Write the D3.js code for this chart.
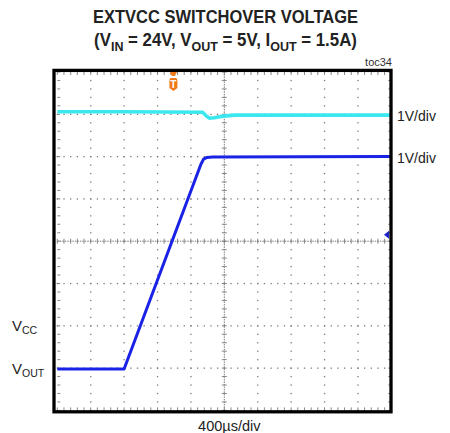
<!DOCTYPE html>
<html><head><meta charset="utf-8">
<script src="https://cdn.jsdelivr.net/npm/d3@7"></script>
<style>body{margin:0;background:#fff}svg{display:block}text{font-family:"Liberation Sans",Arial,sans-serif}</style>
</head><body>
<svg id="c" width="450" height="433"></svg>
<script>
// data: time in divisions (0..10), level in divisions above bottom (0..8)
const vccTime  = [0, 2.0, 4.35, 4.45, 4.55, 4.7, 4.9, 5.3, 10];
const vccLevel = [7.06, 7.06, 7.05, 6.97, 6.91, 6.92, 6.95, 6.98, 6.98];
const voutTime  = [0, 2.0, 4.3, 4.38, 4.48, 4.65, 10];
const voutLevel = [0.98, 0.98, 5.82, 5.94, 5.98, 5.99, 6.0];
const xDivs = 10, yDivs = 8;
const channelLabels = ["1V/div", "1V/div"];
const channelLabelLevels = [6.98, 6.0];
const groundLabels = [["V","CC"],["V","OUT"]];
const groundLevels = [2, 1];
const timeLabel = "400µs/div";
const titleLine1 = "EXTVCC SWITCHOVER VOLTAGE";
const titleLine2 = [["(V",0],["IN",1],[" = 24V, V",0],["OUT",1],[" = 5V, I",0],["OUT",1],[" = 1.5A)",0]];
const triggerTime = 3.5;
const triggerLevel = 4.15;

const svg = d3.select("#c");
const x = d3.scaleLinear().domain([0, xDivs]).range([57.3, 391.3]);
const y = d3.scaleLinear().domain([0, yDivs]).range([410.4, 72]);
const grey = "#7a7a7a";

function fitWidth(sel, cx, target) {
  const w = sel.node().getBBox().width;
  sel.attr("transform", `translate(${cx},0) scale(${target/w},1) translate(${-cx},0)`);
}
// title
const t1 = svg.append("text").attr("x", 225.5).attr("y", 23.5).attr("text-anchor","middle")
  .attr("font-weight","bold").attr("font-size",17.5).attr("fill","#222").text(titleLine1);
fitWidth(t1, 225.5, 265);
const t2 = svg.append("text").attr("x", 225.5).attr("y", 46.5).attr("text-anchor","middle")
  .attr("font-weight","bold").attr("font-size",17.5).attr("fill","#222");
let prevSub = 0;
titleLine2.forEach(([s,sub]) => {
  const dy = sub === prevSub ? 0 : (sub ? 5 : -5);
  t2.append("tspan").attr("font-size", sub ? 13 : 17.5).attr("dy", dy).text(s);
  prevSub = sub;
});
fitWidth(t2, 225.5, 263);
svg.append("text").attr("x", 392).attr("y", 66).attr("text-anchor","end")
  .attr("font-size", 11).attr("fill","#333").text("toc34");

const g = svg.append("g");
// dotted grid
const sub = 5;
for (let i = 1; i < xDivs; i++) {
  if (i === xDivs/2) continue;
  for (let k = 0; k <= yDivs*sub; k++) {
    g.append("rect").attr("x", x(i)-0.6).attr("y", y(k/sub)-0.6).attr("width",1.3).attr("height",1.3).attr("fill",grey);
  }
}
for (let j = 1; j < yDivs; j++) {
  if (j === yDivs/2) continue;
  for (let k = 0; k <= xDivs*sub; k++) {
    g.append("rect").attr("x", x(k/sub)-0.6).attr("y", y(j)-0.6).attr("width",1.3).attr("height",1.3).attr("fill",grey);
  }
}
// center lines
g.append("line").attr("x1",x(0)).attr("x2",x(xDivs)).attr("y1",y(yDivs/2)).attr("y2",y(yDivs/2))
  .attr("stroke",grey).attr("stroke-width",1).attr("stroke-dasharray","1.5,1");
g.append("line").attr("x1",x(xDivs/2)).attr("x2",x(xDivs/2)).attr("y1",y(0)).attr("y2",y(yDivs))
  .attr("stroke",grey).attr("stroke-width",1).attr("stroke-dasharray","1.5,1");
for (let k = 0; k <= xDivs*sub; k++) {
  g.append("line").attr("x1",x(k/sub)).attr("x2",x(k/sub)).attr("y1",y(yDivs/2)-2.5).attr("y2",y(yDivs/2)+2.5).attr("stroke",grey).attr("stroke-width",0.9);
  g.append("line").attr("x1",x(k/sub)).attr("x2",x(k/sub)).attr("y1",y(yDivs)).attr("y2",y(yDivs)+3).attr("stroke",grey).attr("stroke-width",0.9);
  g.append("line").attr("x1",x(k/sub)).attr("x2",x(k/sub)).attr("y1",y(0)).attr("y2",y(0)-3).attr("stroke",grey).attr("stroke-width",0.9);
}
for (let k = 0; k <= yDivs*sub; k++) {
  g.append("line").attr("y1",y(k/sub)).attr("y2",y(k/sub)).attr("x1",x(xDivs/2)-2.5).attr("x2",x(xDivs/2)+2.5).attr("stroke",grey).attr("stroke-width",0.9);
  g.append("line").attr("y1",y(k/sub)).attr("y2",y(k/sub)).attr("x1",x(0)).attr("x2",x(0)+3).attr("stroke",grey).attr("stroke-width",0.9);
  g.append("line").attr("y1",y(k/sub)).attr("y2",y(k/sub)).attr("x1",x(xDivs)).attr("x2",x(xDivs)-3).attr("stroke",grey).attr("stroke-width",0.9);
}

// traces
const line = d3.line().x(d => x(d[0])).y(d => y(d[1]));
svg.append("path").datum(vccTime.map((t,i)=>[t,vccLevel[i]])).attr("d", line)
  .attr("fill","none").attr("stroke","#3ce8f0").attr("stroke-width",3.6).attr("stroke-linejoin","round");
svg.append("path").datum(voutTime.map((t,i)=>[t,voutLevel[i]])).attr("d", line)
  .attr("fill","none").attr("stroke","#1a22e6").attr("stroke-width",3).attr("stroke-linejoin","round");

// frame
svg.append("rect").attr("x",54).attr("y",70.4).attr("width",337).attr("height",341.4)
  .attr("fill","none").attr("stroke","#000").attr("stroke-width",3.3);

// trigger marker
const tx = x(triggerTime) - 0.8;
svg.append("path").attr("d",`M${tx-3.5},72 L${tx+3.5},72 L${tx+1.5},76 L${tx-1.5},76 Z`).attr("fill","#f07a1a");
svg.append("path").attr("d",`M${tx-4},80 Q${tx-4},78 ${tx-2},78 L${tx+2},78 Q${tx+4},78 ${tx+4},80 L${tx+4},88 L${tx},91 L${tx-4},88 Z`).attr("fill","#f07a1a");
svg.append("text").attr("x",tx).attr("y",88).attr("text-anchor","middle").attr("font-size",10).attr("font-weight","bold").attr("fill","#fff").text("T");
// right level marker
const my = y(triggerLevel);
svg.append("path").attr("d",`M384,${my} L389,${my-4} L389,${my+4} Z`).attr("fill","#1a22c8");

// channel labels
channelLabels.forEach((s,i)=>{
  svg.append("text").attr("x",397).attr("y",y(channelLabelLevels[i])+6).attr("font-size",14).attr("fill","#222").text(s);
});
groundLabels.forEach((p,i)=>{
  const tt = svg.append("text").attr("x",12).attr("y",y(groundLevels[i])+5.5).attr("font-size",15).attr("fill","#222");
  tt.append("tspan").text(p[0]);
  tt.append("tspan").attr("font-size",10.5).attr("dy",3).text(p[1]);
});
svg.append("text").attr("x",x(xDivs/2)+5).attr("y",431).attr("text-anchor","middle").attr("font-size",14.5).attr("fill","#222").text(timeLabel);
</script>
</body></html>
